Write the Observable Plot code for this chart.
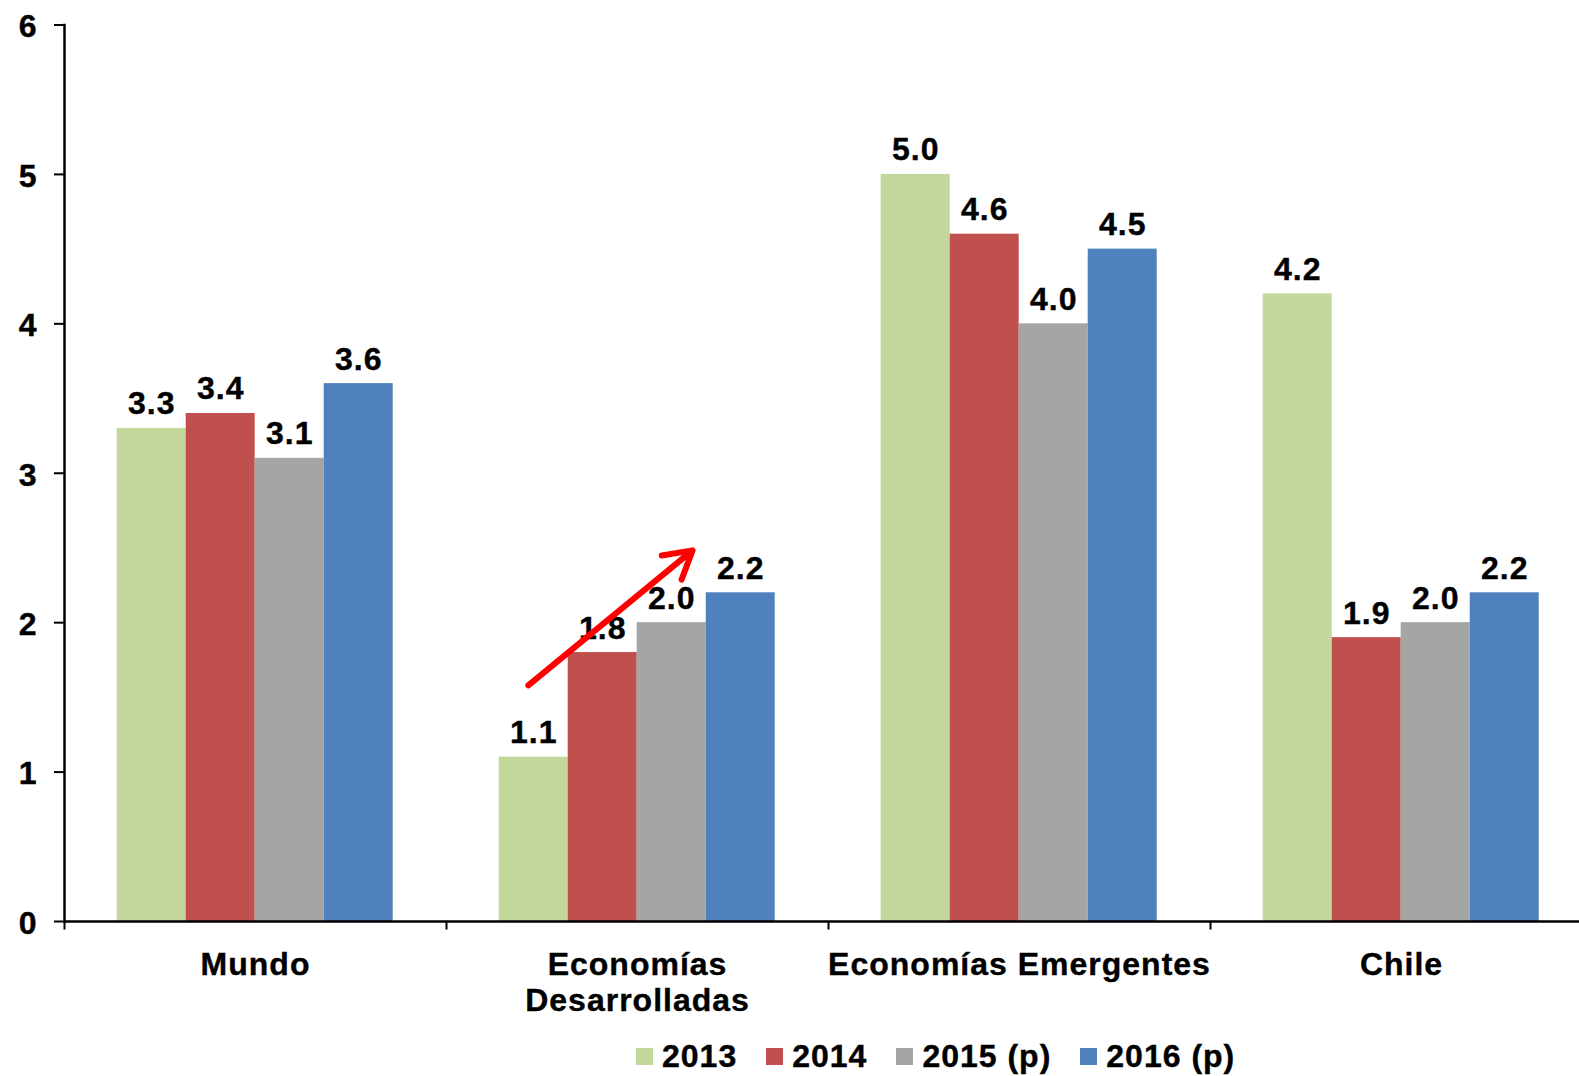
<!DOCTYPE html>
<html>
<head>
<meta charset="utf-8">
<script src="https://cdn.jsdelivr.net/npm/d3@7"></script>
<script src="https://cdn.jsdelivr.net/npm/@observablehq/plot@0.6"></script>
<style>
  html, body { margin: 0; padding: 0; background: #fff; overflow: hidden; }
  body { font-family: "Liberation Sans", Arial, sans-serif; }
  #legend { display: flex; align-items: center; height: 40px; margin-top: 6px; padding-left: 636px;
            font-size: 32px; font-weight: bold; letter-spacing: 1px; color: #000; white-space: nowrap;
            -webkit-text-stroke: 0.4px #000; }
  #legend .sw { width: 17px; height: 17px; margin-right: 9px; flex: none; }
  #legend .item { display: flex; align-items: center; margin-right: 29px; }
  #chart text { stroke: #000; stroke-width: 0.4px; }
  #chart g[aria-label="y-axis tick label"] text { font-size: 32px !important; font-weight: bold; }
</style>
</head>
<body>
<div id="chart"></div>
<div id="legend"></div>
<script>
const categories = ["Mundo", "Economías\nDesarrolladas", "Economías Emergentes", "Chile"];
const series = ["2013", "2014", "2015 (p)", "2016 (p)"];
const values2013 = [3.3, 1.1, 5.0, 4.2];
const values2014 = [3.4, 1.8, 4.6, 1.9];
const values2015 = [3.1, 2.0, 4.0, 2.0];
const values2016 = [3.6, 2.2, 4.5, 2.2];
const colors = ["#C3D69B", "#C0504D", "#A5A5A5", "#4F81BD"];
const yTicks = [0, 1, 2, 3, 4, 5, 6];
// annotation arrow (data units) in "Economías Desarrolladas"
const arrowFrom = {series: "2013", value: 1.61};
const arrowTo = {series: "2015 (p)", value: 2.369};

const seriesValues = [values2013, values2014, values2015, values2016];
const data = [];
categories.forEach((c, i) => series.forEach((s, j) => data.push({cat: c, series: s, value: seriesValues[j][i]})));

const sepSymbol = {draw(ctx) { ctx.moveTo(0, 0); ctx.lineTo(0, 8); }};

const font = '"Liberation Sans", Arial, sans-serif';
const chart = Plot.plot({
  width: 1594,
  height: 1030,
  marginLeft: 62.3,
  marginRight: 0,
  marginTop: 24.5,
  marginBottom: 109,
  style: {fontFamily: font, fontSize: "32px", fontWeight: "bold", letterSpacing: "1px", maxWidth: "none", background: "#fff", color: "#000"},
  fx: {domain: categories, padding: 0},
  x: {domain: series, paddingInner: 0, paddingOuter: 0.755, axis: null},
  y: {domain: [0, 6]},
  color: {domain: series, range: colors},
  marks: [
    Plot.barY(data, {fx: "cat", x: "series", y: "value", fill: "series"}),
    Plot.ruleY([0], {stroke: "#000", strokeWidth: 2.5}),
    Plot.frame({anchor: "left", facetAnchor: "left", stroke: "#000", strokeWidth: 2.5}),
    Plot.dot([null], {x: null, y: null, frameAnchor: "bottom-left", symbol: sepSymbol, stroke: "#000", strokeWidth: 2, fill: "none"}),
    Plot.axisY({ticks: yTicks, tickFormat: () => "", tickSize: 10, strokeWidth: 2, label: null}),
    Plot.axisY({ticks: yTicks, tickFormat: d => String(d), tickSize: 0, tickPadding: 27, fontSize: 32, fontWeight: "bold", dy: 2, label: null}),
    Plot.axisFx({anchor: "bottom", tickSize: 0, tickPadding: 27, fontSize: 32, fontWeight: "bold", lineHeight: 1.15, label: null}),
    Plot.text(data, {fx: "cat", x: "series", y: "value", text: d => d.value.toFixed(1), dy: -14, lineAnchor: "bottom", fontSize: 32, fontWeight: "bold", fill: "#000"}),
    Plot.arrow([{cat: categories[1]}], {
      fx: "cat",
      x1: () => arrowFrom.series, y1: () => arrowFrom.value,
      x2: () => arrowTo.series, y2: () => arrowTo.value,
      stroke: "#FF0000", strokeWidth: 6, headLength: 7.8, insetStart: -7, insetEnd: -27
    })
  ]
});
document.getElementById("chart").appendChild(chart);

const legend = document.getElementById("legend");
series.forEach((s, i) => {
  const item = document.createElement("div");
  item.className = "item";
  const sw = document.createElement("div");
  sw.className = "sw";
  sw.style.background = colors[i];
  const label = document.createElement("span");
  label.textContent = s;
  item.appendChild(sw);
  item.appendChild(label);
  legend.appendChild(item);
});
</script>
</body>
</html>
